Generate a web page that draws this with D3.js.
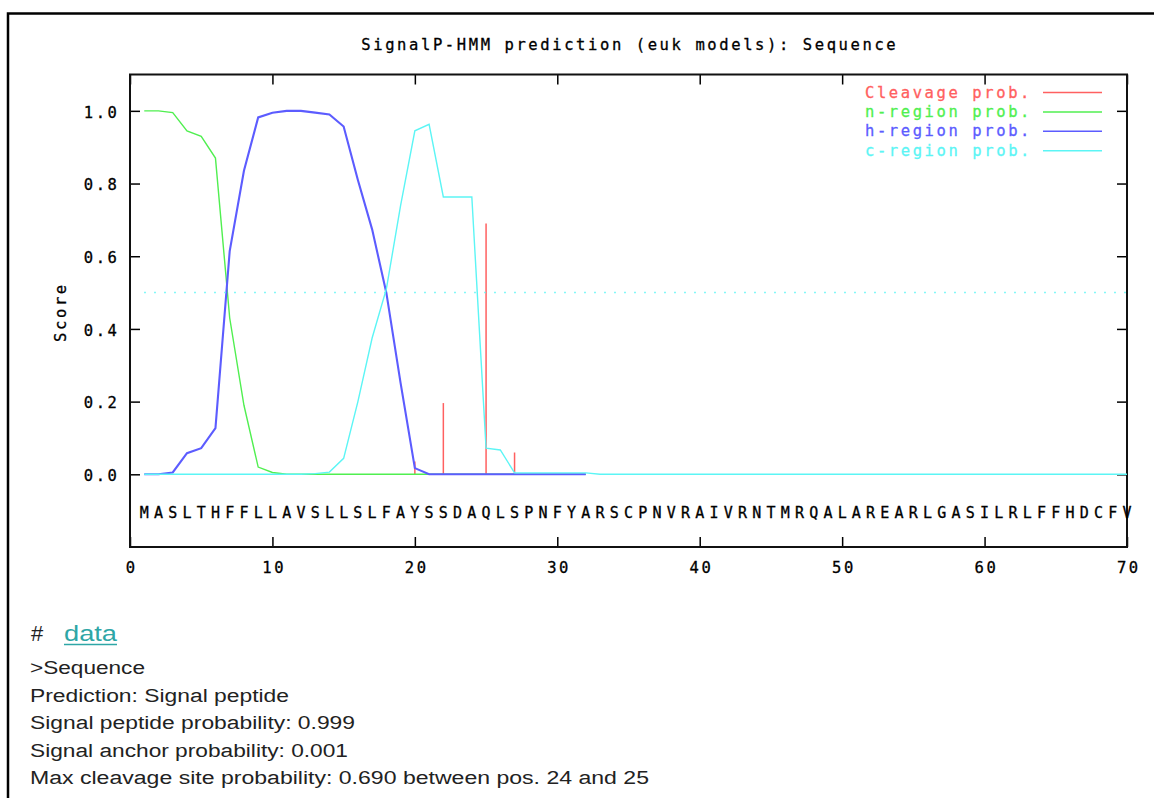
<!DOCTYPE html>
<html>
<head>
<meta charset="utf-8">
<script src="https://cdn.jsdelivr.net/npm/d3@7"></script>
<style>
body{margin:0;background:#fff;overflow:hidden}
</style>
</head>
<body>
<svg id="graphContainer"></svg>
<script>
/*Données (positions 1..70)*/
const sequence = ['M','A','S','L','T','H','F','F','L','L','A','V','S','L','L','S','L','F','A','Y',
                  'S','S','D','A','Q','L','S','P','N','F','Y','A','R','S','C','P','N','V','R','A',
                  'I','V','R','N','T','M','R','Q','A','L','A','R','E','A','R','L','G','A','S','I',
                  'L','R','L','F','F','H','D','C','F','V']

const cleavage = [0,0,0,0,0,0,0,0,0,0, 0,0,0,0,0,0,0,0,0,0.035, 0,0.196,0,0,0.690,0,0.06,0,0,0, 0,0]
const nRegion  = [1.0,1.0,0.995,0.945,0.93,0.87,0.43,0.19,0.02,0.005, 0,0,0,0,0,0,0,0,0,0, 0,0,0,0,0,0,0,0,0,0, 0,0]
const hRegion  = [0,0,0.005,0.058,0.072,0.127,0.614,0.835,0.982,0.995, 1.0,1.0,0.995,0.99,0.957,0.81,0.674,0.499,0.251,0.017, 0,0,0,0,0,0,0,0,0,0, 0,0]
const cRegion  = [0,0,0,0,0,0,0,0,0,0, 0,0,0.002,0.006,0.044,0.2,0.375,0.51,0.74,0.945,
                  0.963,0.763,0.763,0.763,0.072,0.067,0.004,0.004,0.004,0.004, 0.004,0.004,0,0,0,0,0,0,0,0,
                  0,0,0,0,0,0,0,0,0,0, 0,0,0,0,0,0,0,0,0,0, 0,0,0,0,0,0,0,0,0,0]
const threshold = 0.5

const xTicks = [0,10,20,30,40,50,60,70]
const yTicks = [0.0,0.2,0.4,0.6,0.8,1.0]

const legendNames  = ['Cleavage prob.','n-region prob.','h-region prob.','c-region prob.']
const legendColors = ['#ff6060','#50ef50','#5c5cff','#5cf5f5']

const infoLines = ['>Sequence',
                   'Prediction: Signal peptide',
                   'Signal peptide probability: 0.999',
                   'Signal anchor probability: 0.001',
                   'Max cleavage site probability: 0.690 between pos. 24 and 25']

const width = 1154, height = 798
const plot = {left: 130, right: 1127, top: 74.5, bottom: 547}
const mono = '"DejaVu Sans Mono", monospace'

let svgContainer = d3.select('#graphContainer')
                     .attr('width', width)
                     .attr('height', height)

/*Style commun du texte façon gnuplot*/
const gnuText = (sel, size) => {
    sel.style('font-family', mono)
       .style('font-size', (size || 15.5)+'px')
       .style('letter-spacing','2.6px')
       .attr('stroke-width', 0.3)
}

/*Cadre extérieur*/
svgContainer.append('rect')
            .attr('x', 8).attr('y', 13.5)
            .attr('width', 1200).attr('height', 900)
            .attr('fill', 'none')
            .attr('stroke', '#000')
            .attr('stroke-width', 2.5)

/*Echelles*/
const xScale = d3.scaleLinear().domain([0,70]).range([plot.left, plot.right])
const yScale = d3.scaleLinear().domain([-0.2,1.1]).range([plot.bottom, plot.top])

/*Titre*/
svgContainer.append('text')
            .attr('x', (plot.left+plot.right)/2 + 1.3)
            .attr('y', 50)
            .attr('text-anchor','middle')
            .attr('stroke','#000')
            .call(gnuText)
            .text('SignalP-HMM prediction (euk models): Sequence')

/*Axes avec graduations vers l'intérieur*/
const styleAxis = (g) => {
    g.select('.domain').remove()
    g.selectAll('line').attr('stroke','#000').attr('stroke-width',1.5)
    g.selectAll('text')
     .attr('fill','#000')
     .attr('stroke','#000')
     .call(gnuText)
}

svgContainer.append('g')
            .attr('transform','translate(0,'+plot.bottom+')')
            .call(d3.axisBottom(xScale).tickValues(xTicks).tickSize(-10).tickPadding(15).tickFormat(d3.format('d')))
            .call(styleAxis)
            .selectAll('text').attr('dx','1.3px')

svgContainer.append('g')
            .attr('transform','translate(0,'+plot.top+')')
            .call(d3.axisTop(xScale).tickValues(xTicks).tickSize(-10).tickFormat(''))
            .call(styleAxis)

svgContainer.append('g')
            .attr('transform','translate('+plot.left+',0)')
            .call(d3.axisLeft(yScale).tickValues(yTicks).tickSize(-10).tickPadding(10.5).tickFormat(d3.format('.1f')))
            .call(styleAxis)
            .selectAll('text').attr('dy','0.4em')

svgContainer.append('g')
            .attr('transform','translate('+plot.right+',0)')
            .call(d3.axisRight(yScale).tickValues(yTicks).tickSize(-10).tickFormat(''))
            .call(styleAxis)

svgContainer.append('rect')
            .attr('x', plot.left).attr('y', plot.top)
            .attr('width', plot.right-plot.left)
            .attr('height', plot.bottom-plot.top)
            .attr('fill','none')
            .attr('stroke','#111')
            .attr('stroke-width',2)

/*Titre axe des y*/
svgContainer.append('text')
            .attr('transform','translate(66,'+((plot.top+plot.bottom)/2+1.3)+') rotate(-90)')
            .attr('text-anchor','middle')
            .attr('stroke','#000')
            .call(gnuText)
            .text('Score')

/*Séquence sous les courbes*/
svgContainer.append('g')
            .selectAll('text')
            .data(sequence)
            .enter()
            .append('text')
            .attr('x', (d,i) => xScale(i+1))
            .attr('y', 517.5)
            .attr('text-anchor','middle')
            .attr('stroke','#000')
            .attr('stroke-width', 0.3)
            .style('font-family', mono)
            .style('font-size','15px')
            .text(d => d)

/*Barres de clivage*/
svgContainer.append('g')
            .selectAll('line')
            .data(cleavage)
            .enter()
            .append('line')
            .attr('x1', (d,i) => xScale(i+1))
            .attr('x2', (d,i) => xScale(i+1))
            .attr('y1', yScale(0))
            .attr('y2', d => yScale(d))
            .attr('stroke', legendColors[0])
            .attr('stroke-width', 1.5)

/*Courbes n, h, c*/
const line = d3.line()
               .x((d,i) => xScale(i+1))
               .y(d => yScale(d))

const series = [[nRegion,1,1.4],[hRegion,2,2.1],[cRegion,3,1.4]]
series.forEach(s => {
    svgContainer.append('path')
                .datum(s[0])
                .attr('d', line)
                .attr('fill','none')
                .attr('stroke', legendColors[s[1]])
                .attr('stroke-width', s[2])
})

/*Seuil 0.5 en pointillés*/
svgContainer.append('line')
            .attr('x1', xScale(1)).attr('x2', xScale(70))
            .attr('y1', yScale(threshold)).attr('y2', yScale(threshold))
            .attr('stroke', legendColors[3])
            .attr('stroke-width', 1.5)
            .attr('stroke-dasharray','1.5,8.5')

/*Légende*/
const legend = svgContainer.append('g')
legendNames.forEach((name,i) => {
    let yPos = 92.5 + i*19.4
    legend.append('text')
          .attr('x', 1032)
          .attr('y', yPos+5)
          .attr('text-anchor','end')
          .attr('fill', legendColors[i])
          .attr('stroke', legendColors[i])
          .call(gnuText)
          .text(name)
    legend.append('line')
          .attr('x1', 1043).attr('x2', 1102)
          .attr('y1', yPos).attr('y2', yPos)
          .attr('stroke', legendColors[i])
          .attr('stroke-width', 1.5)
})

/*Texte sous le graphique*/
svgContainer.append('text')
            .attr('x', 31).attr('y', 641)
            .attr('fill','#222')
            .style('font-family','"Liberation Sans", Arial, sans-serif')
            .style('font-size','22px')
            .text('#')

svgContainer.append('text')
            .attr('x', 64).attr('y', 641)
            .attr('fill','#2ea6a6')
            .attr('textLength', 53)
            .attr('lengthAdjust','spacingAndGlyphs')
            .style('font-family','"Liberation Sans", Arial, sans-serif')
            .style('font-size','22px')
            .text('data')

svgContainer.append('line')
            .attr('x1', 64).attr('x2', 117)
            .attr('y1', 644.5).attr('y2', 644.5)
            .attr('stroke','#2ea6a6')
            .attr('stroke-width', 1.5)

const infoWidths = [115, 259, 325, 318, 619]
svgContainer.append('g')
            .selectAll('text')
            .data(infoLines)
            .enter()
            .append('text')
            .attr('x', 30)
            .attr('y', (d,i) => 674 + i*27.6)
            .attr('fill','#222')
            .attr('textLength', (d,i) => infoWidths[i])
            .attr('lengthAdjust','spacingAndGlyphs')
            .style('font-family','"Liberation Sans", Arial, sans-serif')
            .style('font-size','18px')
            .text(d => d)
</script>
</body>
</html>
